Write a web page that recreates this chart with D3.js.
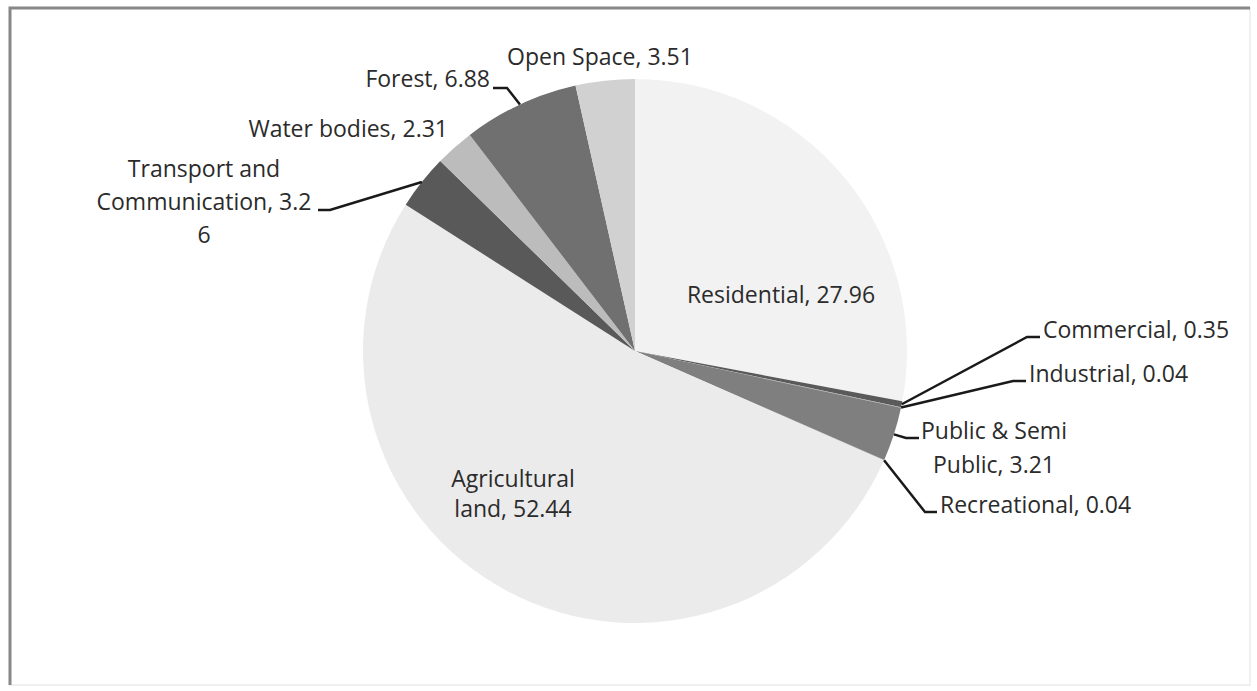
<!DOCTYPE html>
<html lang="en">
<head>
    <meta charset="UTF-8">
    <title>Land Use Pie</title>
    <script src="https://d3js.org/d3.v7.min.js"></script>
    <style>
        body {
            margin: 0;
            background: #fff;
        }
        svg {
            display: block;
        }
        .lbl {
            font-family: 'Open Sans', Lato, sans-serif;
            font-size: 23px;
            fill: #2b2b2b;
        }
        .leader {
            fill: none;
            stroke: #1a1a1a;
            stroke-width: 2.5px;
        }
    </style>
</head>
<body>
    <svg></svg>

    <script>
        const width = 1257;
        const height = 691;

        // data, clockwise from 12 o'clock
        const categories = ["Residential", "Commercial", "Industrial", "Public & Semi Public",
            "Recreational", "Agricultural land", "Transport and Communication",
            "Water bodies", "Forest", "Open Space"];
        const values = [27.96, 0.35, 0.04, 3.21, 0.04, 52.44, 3.26, 2.31, 6.88, 3.51];
        const valueText = ["27.96", "0.35", "0.04", "3.21", "0.04", "52.44", "3.26", "2.31", "6.88", "3.51"];
        const fills = ["#f2f2f2", "#5a5a5a", "#a6a6a6", "#7f7f7f", "#a6a6a6",
            "#ebebeb", "#595959", "#bcbcbc", "#707070", "#d1d1d1"];

        // label layout: text lines, anchor point, and leader elbow (if any)
        const labelLayout = {
            "Residential": {lines: ["Residential, 27.96"], x: 781, y: 303, anchor: "middle"},
            "Commercial": {lines: ["Commercial, 0.35"], x: 1043, y: 338, anchor: "start", elbow: [[1040, 337], [1027, 337]]},
            "Industrial": {lines: ["Industrial, 0.04"], x: 1029, y: 382, anchor: "start", elbow: [[1026, 381], [1013, 381]]},
            "Public & Semi Public": {lines: ["Public & Semi", "Public, 3.21"], x: 994, y: 439, dy: 34, anchor: "middle", elbow: [[919, 438], [906, 438]]},
            "Recreational": {lines: ["Recreational, 0.04"], x: 940, y: 513, anchor: "start", elbow: [[937, 512], [925, 512]]},
            "Agricultural land": {lines: ["Agricultural", "land, 52.44"], x: 513, y: 487, dy: 30, anchor: "middle"},
            "Transport and Communication": {lines: ["Transport and", "Communication, 3.2", "6"], x: 204, y: 177, dy: 33, anchor: "middle", elbow: [[318, 210], [330, 210]]},
            "Water bodies": {lines: ["Water bodies, 2.31"], x: 448, y: 137, anchor: "end"},
            "Forest": {lines: ["Forest, 6.88"], x: 490, y: 87, anchor: "end", elbow: [[493, 88], [507, 88]]},
            "Open Space": {lines: ["Open Space, 3.51"], x: 600, y: 65, anchor: "middle"}
        };

        const cx = 635, cy = 351, radius = 272;

        const svg = d3.select("svg")
            .attr("width", width)
            .attr("height", height);

        // chart frame
        svg.append("rect")
            .attr("x", 10).attr("y", 8)
            .attr("width", 1240).attr("height", 677)
            .attr("fill", "#fff")
            .attr("stroke", "#f0f0f0")
            .attr("stroke-width", 2);
        svg.append("path")
            .attr("d", "M10,685 V8 H1250")
            .attr("fill", "none")
            .attr("stroke", "#878787")
            .attr("stroke-width", 3);

        const data = categories.map((c, i) => ({name: c, value: values[i], text: valueText[i], fill: fills[i]}));

        const pie = d3.pie()
            .value(d => d.value)
            .sort(null)
            .startAngle(0)
            .endAngle(2 * Math.PI);

        const arc = d3.arc()
            .innerRadius(0)
            .outerRadius(radius);

        const arcs = pie(data);

        const g = svg.append("g")
            .attr("transform", `translate(${cx},${cy})`);

        g.selectAll("path")
            .data(arcs)
            .join("path")
            .attr("d", arc)
            .attr("fill", d => d.data.fill);

        // leader lines go from the slice edge to the elbow next to the label
        const edgePoint = d => {
            const a = (d.startAngle + d.endAngle) / 2;
            return [cx + radius * Math.sin(a), cy - radius * Math.cos(a)];
        };

        const line = d3.line();
        svg.append("g")
            .selectAll("path")
            .data(arcs.filter(d => labelLayout[d.data.name].elbow))
            .join("path")
            .attr("class", "leader")
            .attr("d", d => {
                const e = labelLayout[d.data.name].elbow;
                return line([e[0], e[1], edgePoint(d)]);
            });

        // labels
        const labels = svg.append("g")
            .selectAll("text")
            .data(arcs)
            .join("text")
            .attr("class", "lbl")
            .attr("text-anchor", d => labelLayout[d.data.name].anchor);

        labels.each(function(d) {
            const L = labelLayout[d.data.name];
            d3.select(this).selectAll("tspan")
                .data(L.lines)
                .join("tspan")
                .attr("x", L.x)
                .attr("y", (t, i) => L.y + i * (L.dy || 0))
                .text(t => t);
        });
    </script>
</body>
</html>
